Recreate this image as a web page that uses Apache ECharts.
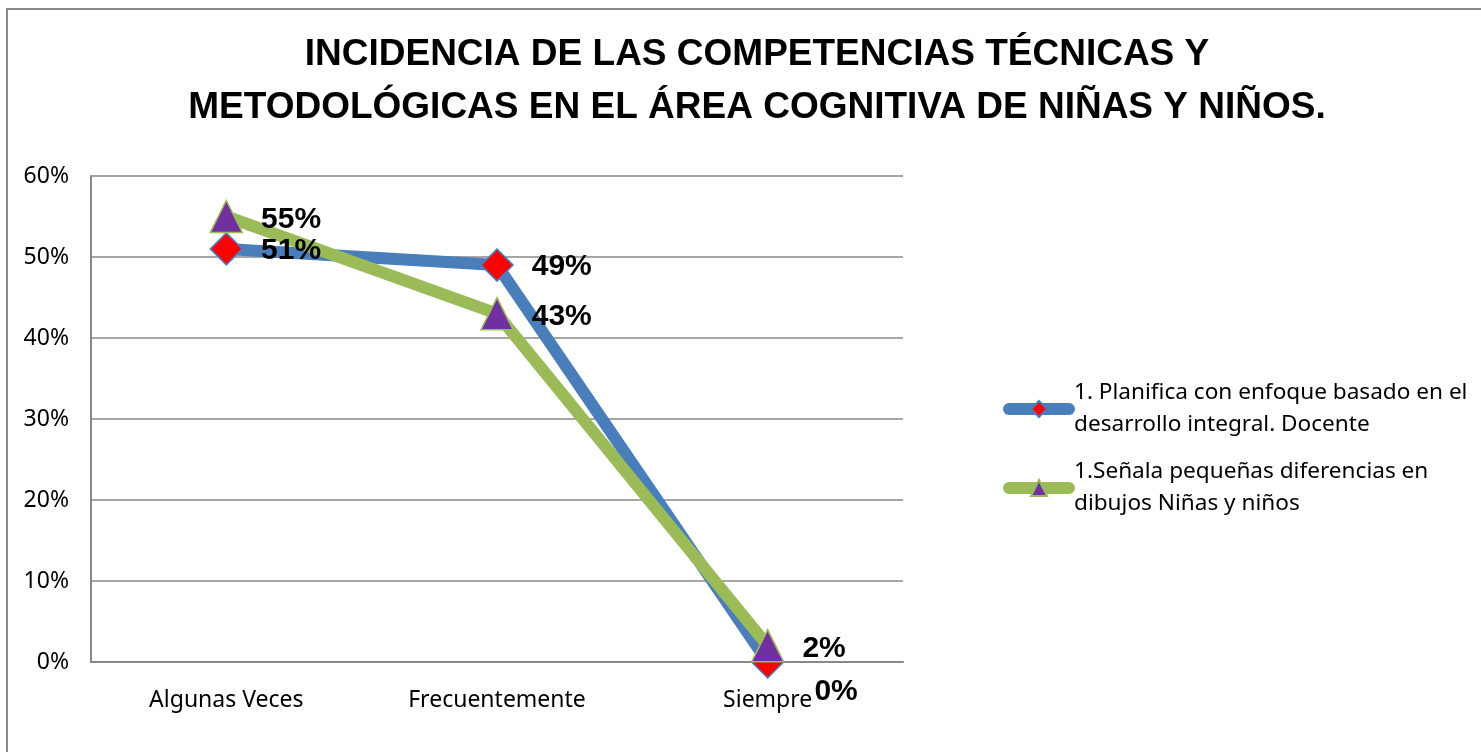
<!DOCTYPE html>
<html>
<head>
<meta charset="utf-8">
<script src="https://cdn.jsdelivr.net/npm/echarts@6/dist/echarts.min.js"></script>
<style>
  html, body { margin: 0; padding: 0; background: #fff; }
  #chart { width: 1481px; height: 752px; }
</style>
</head>
<body>
<div id="chart"></div>
<script>
const categories = ['Algunas Veces', 'Frecuentemente', 'Siempre']
const docente = [51, 49, 0]   // 1. Planifica con enfoque...
const ninos = [55, 43, 2]     // 1.Señala pequeñas diferencias...
const yTicks = [0, 10, 20, 30, 40, 50, 60]

const labelFont = { fontFamily: 'Liberation Sans', fontWeight: 'bold', fontSize: 30, color: '#000' }

const chart = echarts.init(document.getElementById('chart'))
chart.setOption({
  animation: false,
  title: {
    text: 'INCIDENCIA DE LAS COMPETENCIAS TÉCNICAS Y\nMETODOLÓGICAS EN EL ÁREA COGNITIVA DE NIÑAS Y NIÑOS.',
    left: 752,
    textAlign: 'center',
    top: 23,
    textStyle: {
      fontFamily: 'Liberation Sans',
      fontWeight: 'bold',
      fontSize: 37,
      lineHeight: 53,
      color: '#000'
    }
  },
  graphic: [{
    type: 'rect',
    shape: { x: 7, y: 9, width: 1600, height: 900 },
    style: { fill: 'none', stroke: '#888', lineWidth: 2 },
    silent: true
  }],
  grid: { left: 91, right: 578, top: 176, bottom: 90 },
  legend: {
    orient: 'vertical',
    left: 998,
    top: 372,
    itemWidth: 60,
    itemHeight: 20,
    itemGap: 15,
    lineStyle: { width: 12, cap: 'round' },
    textStyle: {
      fontFamily: 'Noto Sans',
      fontSize: 22.6,
      color: '#000',
      width: 410,
      overflow: 'break',
      lineHeight: 32
    },
    data: [
      '1. Planifica con enfoque basado en el desarrollo integral. Docente',
      '1.Señala pequeñas diferencias en dibujos Niñas y niños'
    ]
  },
  xAxis: {
    type: 'category',
    data: categories,
    boundaryGap: true,
    axisLine: { lineStyle: { color: '#888', width: 2 } },
    axisTick: { show: false },
    axisLabel: { color: '#000', fontFamily: 'Noto Sans', fontSize: 23, margin: 27 }
  },
  yAxis: {
    type: 'value',
    min: yTicks[0],
    max: yTicks[yTicks.length - 1],
    interval: 10,
    axisLine: { show: true, lineStyle: { color: '#888', width: 2 } },
    axisTick: { show: false },
    splitLine: { lineStyle: { color: '#888', width: 1.5 } },
    axisLabel: {
      color: '#000', fontFamily: 'Noto Sans', fontSize: 23, margin: 22,
      formatter: v => v + '%'
    }
  },
  series: [
    {
      name: '1. Planifica con enfoque basado en el desarrollo integral. Docente',
      type: 'line',
      data: docente.map((v, i) => i === 2 ? {
        value: v,
        label: { offset: [12, 30] }
      } : v),
      symbol: 'diamond',
      symbolSize: 32,
      lineStyle: { color: '#4a7ebb', width: 12 },
      itemStyle: { color: '#ff0000', borderColor: '#4a7ebb', borderWidth: 1.5 },
      label: Object.assign({ show: true, position: 'right', distance: 18, offset: [0, 2], formatter: '{c}%' }, labelFont)
    },
    {
      name: '1.Señala pequeñas diferencias en dibujos Niñas y niños',
      type: 'line',
      data: ninos,
      symbol: 'triangle',
      symbolSize: 32,
      lineStyle: { color: '#9bbb59', width: 12 },
      itemStyle: { color: '#7030a0', borderColor: '#9bbb59', borderWidth: 1.5 },
      label: Object.assign({ show: true, position: 'right', distance: 18, offset: [0, 3], formatter: '{c}%' }, labelFont)
    }
  ]
})
</script>
</body>
</html>
